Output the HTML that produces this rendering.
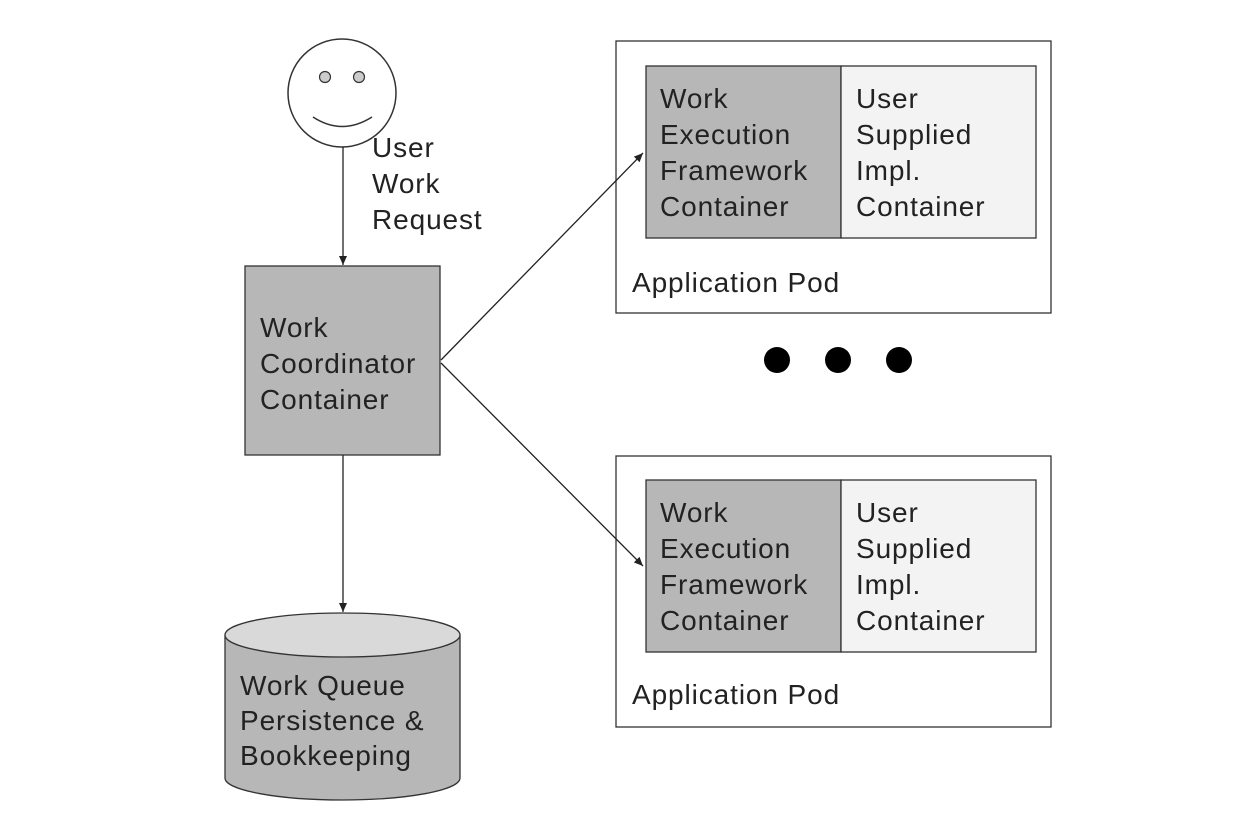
<!DOCTYPE html>
<html><head><meta charset="utf-8"><style>
html,body{margin:0;padding:0;background:#fff}
svg text{font-family:"Liberation Sans",Arial,sans-serif;font-size:28px;letter-spacing:0.9px;fill:#222}
</style></head><body>
<svg width="1236" height="832" viewBox="0 0 1236 832" xmlns="http://www.w3.org/2000/svg">
<defs><marker id="a" markerWidth="10" markerHeight="10" refX="9" refY="5" orient="auto" markerUnits="userSpaceOnUse"><path d="M0,1 L9,5 L0,9 z" fill="#222"/></marker></defs>
<rect width="1236" height="832" fill="#fff"/>
<!-- smiley -->
<circle cx="342" cy="93" r="54" fill="#fff" stroke="#333" stroke-width="1.5"/>
<circle cx="325" cy="77" r="5.5" fill="#ccc" stroke="#333" stroke-width="1.2"/>
<circle cx="359" cy="77" r="5.5" fill="#ccc" stroke="#333" stroke-width="1.2"/>
<path d="M313,117 Q342,136 372,117" fill="none" stroke="#333" stroke-width="1.5"/>
<line x1="343" y1="147" x2="343" y2="265" stroke="#222" stroke-width="1.3" marker-end="url(#a)"/>
<text x="372" y="157">User</text><text x="372" y="193">Work</text><text x="372" y="229">Request</text>
<!-- coordinator -->
<rect x="245" y="266" width="195" height="189" fill="#b7b7b7" stroke="#333" stroke-width="1.3"/>
<text x="260" y="337">Work</text><text x="260" y="373">Coordinator</text><text x="260" y="409">Container</text>
<line x1="343" y1="455" x2="343" y2="612" stroke="#222" stroke-width="1.3" marker-end="url(#a)"/>
<!-- cylinder -->
<path d="M225,635 L225,778 A117.5,22 0 0 0 460,778 L460,635" fill="#b7b7b7" stroke="#333" stroke-width="1.3"/>
<ellipse cx="342.5" cy="635" rx="117.5" ry="22" fill="#d9d9d9" stroke="#333" stroke-width="1.3"/>
<text x="240" y="695">Work Queue</text><text x="240" y="730">Persistence &amp;</text><text x="240" y="765">Bookkeeping</text>
<!-- pod 1 -->
<rect x="616" y="41" width="435" height="272" fill="#fff" stroke="#333" stroke-width="1.3"/>
<rect x="646" y="66" width="195" height="172" fill="#b7b7b7" stroke="#333" stroke-width="1.3"/>
<rect x="841" y="66" width="195" height="172" fill="#f3f3f3" stroke="#333" stroke-width="1.3"/>
<text x="660" y="108">Work</text><text x="660" y="144">Execution</text><text x="660" y="180">Framework</text><text x="660" y="216">Container</text>
<text x="856" y="108">User</text><text x="856" y="144">Supplied</text><text x="856" y="180">Impl.</text><text x="856" y="216">Container</text>
<text x="632" y="292">Application Pod</text>
<!-- dots -->
<circle cx="777" cy="360" r="13" fill="#000"/><circle cx="838" cy="360" r="13" fill="#000"/><circle cx="899" cy="360" r="13" fill="#000"/>
<!-- pod 2 -->
<rect x="616" y="456" width="435" height="271" fill="#fff" stroke="#333" stroke-width="1.3"/>
<rect x="646" y="480" width="195" height="172" fill="#b7b7b7" stroke="#333" stroke-width="1.3"/>
<rect x="841" y="480" width="195" height="172" fill="#f3f3f3" stroke="#333" stroke-width="1.3"/>
<text x="660" y="522">Work</text><text x="660" y="558">Execution</text><text x="660" y="594">Framework</text><text x="660" y="630">Container</text>
<text x="856" y="522">User</text><text x="856" y="558">Supplied</text><text x="856" y="594">Impl.</text><text x="856" y="630">Container</text>
<text x="632" y="704">Application Pod</text>
<!-- arrows to pods (on top) -->
<line x1="441" y1="360" x2="643" y2="153" stroke="#222" stroke-width="1.3" marker-end="url(#a)"/>
<line x1="441" y1="363" x2="643" y2="566" stroke="#222" stroke-width="1.3" marker-end="url(#a)"/>
</svg>
</body></html>
